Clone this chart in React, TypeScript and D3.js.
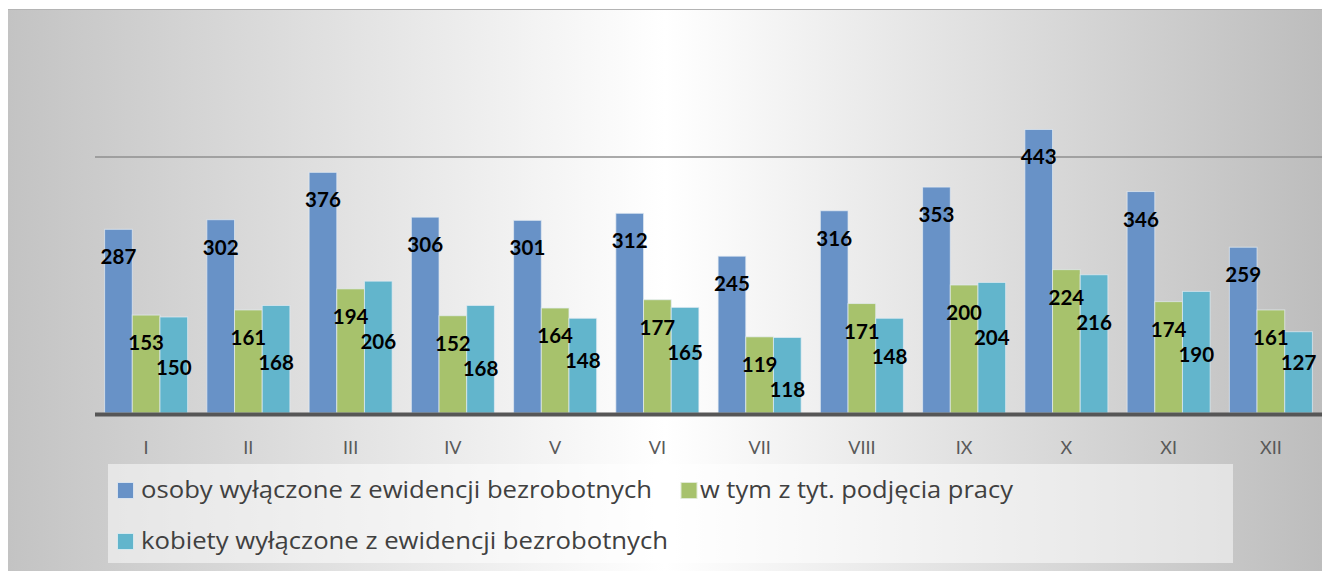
import React from "react";
import * as d3 from "d3";

const months = ["I", "II", "III", "IV", "V", "VI", "VII", "VIII", "IX", "X", "XI", "XII"];
const osoby = [287, 302, 376, 306, 301, 312, 245, 316, 353, 443, 346, 259];
const praca = [153, 161, 194, 152, 164, 177, 119, 171, 200, 224, 174, 161];
const kobiety = [150, 168, 206, 168, 148, 165, 118, 148, 204, 216, 190, 127];
const seriesNames = [
  "osoby wyłączone z ewidencji bezrobotnych",
  "w tym z tyt. podjęcia pracy",
  "kobiety wyłączone z ewidencji bezrobotnych",
];
const gridValues = [400];

const W = 1322;
const H = 571;
const colors = ["#6892c7", "#a7c26c", "#62b5cc"];

export default function App() {
  const x0 = d3.scaleBand<string>().domain(months).range([95, 1322]).paddingInner(0.188).paddingOuter(0.094);
  const x1 = d3.scaleBand<number>().domain([0, 1, 2]).range([0, x0.bandwidth()]);
  const y = d3.scaleLinear().domain([0, 400]).range([413, 157]);
  const series = [osoby, praca, kobiety];
  const labelFont = "Lato, 'Open Sans', sans-serif";
  const legendFont = "'Open Sans', Lato, sans-serif";

  const bars: JSX.Element[] = [];
  const labels: JSX.Element[] = [];
  months.forEach((m, i) => {
    let prevLabelY = -Infinity;
    series.forEach((s, k) => {
      const v = s[i];
      const bx = (x0(m) as number) + (x1(k) as number);
      const bw = x1.bandwidth();
      const top = y(v);
      bars.push(
        <rect key={`b${i}-${k}`} x={bx} y={top} width={bw} height={y(0) - top}
          fill={colors[k]} stroke="#e4ecf4" strokeOpacity={0.7} strokeWidth={1} />
      );
      let ly = top + 27.5;
      if (k === 2) ly = Math.max(ly, prevLabelY + 25);
      prevLabelY = ly;
      labels.push(
        <text key={`l${i}-${k}`} x={bx + bw / 2} y={ly + 7.5} textAnchor="middle"
          fontFamily={labelFont} fontWeight={700} fontSize={20.5} fill="#000">{v}</text>
      );
    });
  });

  return (
    <svg width={W} height={H} style={{ position: "absolute", left: 0, top: 0 }}>
      <defs>
        <linearGradient id="bg" x1="0" y1="0" x2="1" y2="0">
          <stop offset="0" stopColor="#c3c3c3" />
          <stop offset="0.5" stopColor="#ffffff" />
          <stop offset="1" stopColor="#bdbdbd" />
        </linearGradient>
      </defs>
      <rect x={0} y={0} width={W} height={H} fill="#fff" />
      <rect x={8} y={9} width={W - 8} height={H - 9} fill="url(#bg)" />
      <line x1={8} x2={W} y1={9.5} y2={9.5} stroke="#b4b4b4" strokeWidth={1} />
      {gridValues.map((g) => (
        <line key={g} x1={95} x2={1322} y1={y(g)} y2={y(g)} stroke="#8f8f8f" strokeWidth={1.5} />
      ))}
      {bars}
      <line x1={95} x2={1322} y1={y(0) + 1.5} y2={y(0) + 1.5} stroke="#565656" strokeWidth={4} />
      {labels}
      {months.map((m) => (
        <text key={m} x={(x0(m) as number) + x0.bandwidth() / 2} y={453.5} textAnchor="middle"
          fontFamily={labelFont} fontSize={18} fill="#595959">{m}</text>
      ))}
      <rect x={108} y={464} width={1125} height={99} fill="#ffffff" fillOpacity={0.5} />
      <rect x={117.5} y={482.5} width={16} height={16} fill={colors[0]} stroke="#d8e2ee" strokeWidth={1} />
      <text x={141} y={498} fontFamily={legendFont} fontSize={23} fill="#404040"
        textLength={511} lengthAdjust="spacingAndGlyphs">{seriesNames[0]}</text>
      <rect x={681} y={482.5} width={16} height={16} fill={colors[1]} stroke="#e0ead4" strokeWidth={1} />
      <text x={700} y={498} fontFamily={legendFont} fontSize={23} fill="#404040"
        textLength={313} lengthAdjust="spacingAndGlyphs">{seriesNames[1]}</text>
      <rect x={117.5} y={533.5} width={16} height={16} fill={colors[2]} stroke="#d4e8ee" strokeWidth={1} />
      <text x={141} y={549} fontFamily={legendFont} fontSize={23} fill="#404040"
        textLength={527} lengthAdjust="spacingAndGlyphs">{seriesNames[2]}</text>
    </svg>
  );
}
